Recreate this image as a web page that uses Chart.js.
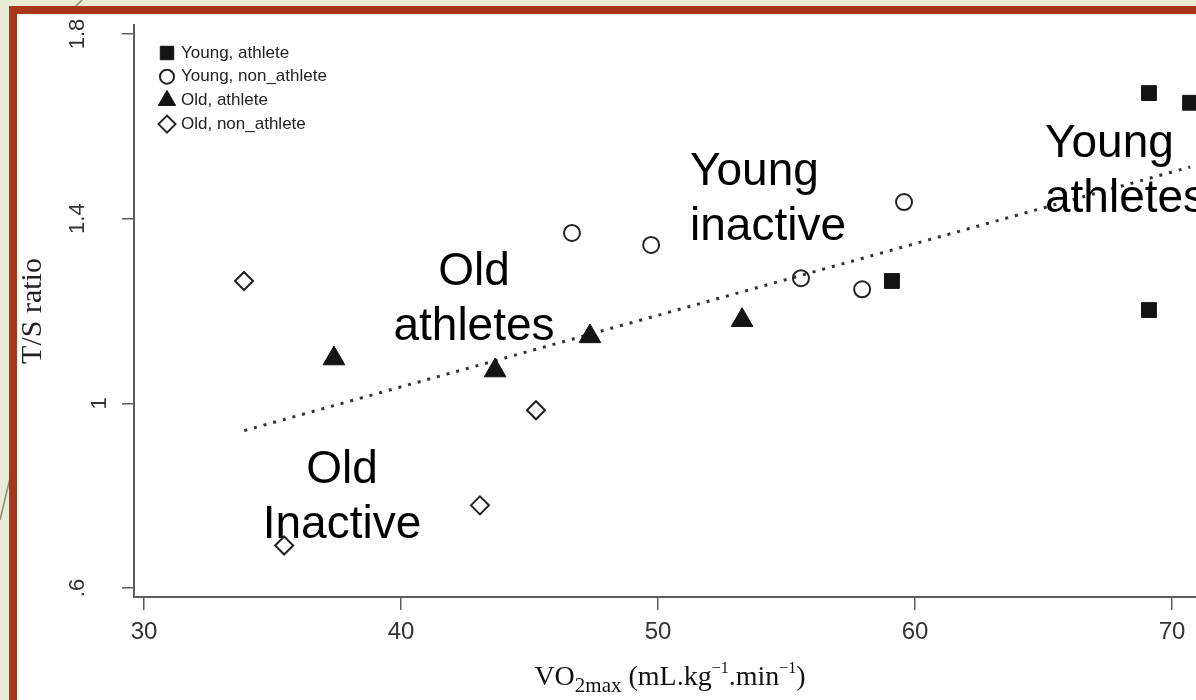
<!DOCTYPE html>
<html>
<head>
<meta charset="utf-8">
<title>T/S ratio vs VO2max</title>
<script src="https://cdn.jsdelivr.net/npm/chart.js@4.4.1/dist/chart.umd.min.js"></script>
<style>
  html, body { margin: 0; padding: 0; background: #e8ecd6; }
  #wrap { width: 1196px; height: 700px; }
</style>
</head>
<body>
<div id="wrap"><canvas id="chartTS" width="1196" height="700"></canvas></div>
<script>
// groups
var groupNames = ['Young, athlete', 'Young, non_athlete', 'Old, athlete', 'Old, non_athlete'];

// VO2max (x) and T/S ratio (y)
var youngAthleteX = [69.1, 70.7, 59.1, 69.1];
var youngAthleteY = [1.672, 1.651, 1.265, 1.202];
var youngInactiveX = [46.65, 49.73, 59.57, 55.56, 57.94];
var youngInactiveY = [1.369, 1.343, 1.436, 1.271, 1.247];
var oldAthleteX = [37.39, 43.66, 47.35, 53.27];
var oldAthleteY = [1.097, 1.071, 1.145, 1.180];
var oldInactiveX = [33.89, 45.25, 43.07, 35.45];
var oldInactiveY = [1.265, 0.985, 0.779, 0.692];

// dotted fit line (its two ends)
var fitX = [33.9, 70.7];
var fitY = [0.941, 1.512];

var xTicks = [30, 40, 50, 60, 70];
var yTicks = [0.6, 1, 1.4, 1.8];
var yTickLabels = ['.6', ['', '1'], '1.4', '1.8'];

var noteTexts = [['Young', 'inactive'], ['Old', 'athletes'], ['Old', 'Inactive'], ['Young', 'athletes']];
var yTitle = 'T/S ratio';
// x title pieces: 0 = normal, 1 = subscript, 2 = superscript
var xTitleParts = [['VO', 0], ['2max', 1], [' (mL.kg', 0], ['\u22121', 2], ['.min', 0], ['\u22121', 2], [')', 0]];

function pairs(xs, ys) {
  return xs.map(function (x, i) { return { x: x, y: ys[i] }; });
}

var sans = '"Liberation Sans", Arial, sans-serif';
var serif = '"Liberation Serif", "Times New Roman", serif';
var axisGrey = '#5c5c5c';
var ink = '#141414';

// slide frame behind the chart
var slideFrame = {
  id: 'slideFrame',
  beforeDraw: function (chart) {
    var c = chart.ctx, w = chart.width, h = chart.height;
    c.save();
    c.fillStyle = '#e8ecd6';
    c.fillRect(0, 0, w, h);
    c.strokeStyle = '#8d8b70';
    c.lineWidth = 1.5;
    c.beginPath();
    c.moveTo(82, 0); c.lineTo(75, 7);
    c.moveTo(10, 478); c.lineTo(0, 520);
    c.stroke();
    c.fillStyle = '#a9371b';
    c.fillRect(9, 6, w - 9, 8);
    c.fillRect(9, 6, 8, h - 6);
    c.fillStyle = '#ffffff';
    c.fillRect(17, 14, w - 17, h - 14);
    c.restore();
  }
};

// big text notes on the plot
var plotNotes = {
  id: 'plotNotes',
  afterDraw: function (chart) {
    var c = chart.ctx;
    var spots = [
      { x: 690, y: 185, align: 'left' },
      { x: 474, y: 285, align: 'center' },
      { x: 342, y: 483, align: 'center' },
      { x: 1045, y: 157, align: 'left' }
    ];
    c.save();
    c.font = '46px ' + sans;
    c.fillStyle = '#000';
    c.textBaseline = 'alphabetic';
    noteTexts.forEach(function (lines, i) {
      c.textAlign = spots[i].align;
      lines.forEach(function (t, j) {
        c.fillText(t, spots[i].x, spots[i].y + j * 55);
      });
    });
    c.restore();
  }
};

// legend in the top left corner of the plot
var legendRadius = [9.5, 7, 10, 8.5];
var cornerLegend = {
  id: 'cornerLegend',
  afterDraw: function (chart) {
    var c = chart.ctx;
    c.save();
    c.font = '17px ' + sans;
    c.textBaseline = 'middle';
    c.textAlign = 'left';
    groupNames.forEach(function (name, i) {
      var ds = chart.data.datasets[i];
      var y = 53 + i * 23.7;
      c.fillStyle = ds.backgroundColor;
      c.strokeStyle = ds.borderColor;
      c.lineWidth = ds.borderWidth;
      Chart.helpers.drawPoint(c, { pointStyle: ds.pointStyle, radius: legendRadius[i], rotation: 0, borderWidth: ds.borderWidth }, 167, y);
      c.fillStyle = '#222';
      c.fillText(name, 181, y);
    });
    c.restore();
  }
};

// x axis title with sub/superscripts
var xTitle = {
  id: 'xTitle',
  afterDraw: function (chart) {
    var c = chart.ctx;
    var fonts = ['28px ' + serif, '21px ' + serif, '16px ' + serif];
    var shift = [0, 7, -12];
    c.save();
    c.fillStyle = '#111';
    c.textBaseline = 'alphabetic';
    c.textAlign = 'left';
    var total = 0;
    xTitleParts.forEach(function (p) { c.font = fonts[p[1]]; total += c.measureText(p[0]).width; });
    var x = 670 - total / 2;
    xTitleParts.forEach(function (p) {
      c.font = fonts[p[1]];
      c.fillText(p[0], x, 685 + shift[p[1]]);
      x += c.measureText(p[0]).width;
    });
    c.restore();
  }
};

var ctx = document.getElementById('chartTS').getContext('2d');

new Chart(ctx, {
  type: 'scatter',
  data: {
    datasets: [{
      label: groupNames[0],
      data: pairs(youngAthleteX, youngAthleteY),
      pointStyle: 'rect',
      pointRadius: 10.5,
      backgroundColor: ink,
      borderColor: ink,
      borderWidth: 1
    }, {
      label: groupNames[1],
      data: pairs(youngInactiveX, youngInactiveY),
      pointStyle: 'circle',
      pointRadius: 8,
      backgroundColor: 'rgba(255,255,255,0)',
      borderColor: '#222',
      borderWidth: 2
    }, {
      label: groupNames[2],
      data: pairs(oldAthleteX, oldAthleteY),
      pointStyle: 'triangle',
      pointRadius: 12.5,
      backgroundColor: ink,
      borderColor: ink,
      borderWidth: 1
    }, {
      label: groupNames[3],
      data: pairs(oldInactiveX, oldInactiveY),
      pointStyle: 'rectRot',
      pointRadius: 9,
      backgroundColor: 'rgba(255,255,255,0)',
      borderColor: '#222',
      borderWidth: 2
    }, {
      label: 'fit',
      data: pairs(fitX, fitY),
      showLine: true,
      pointRadius: 0,
      borderColor: '#333',
      borderWidth: 3,
      borderDash: [3, 7],
      fill: false
    }]
  },
  options: {
    responsive: false,
    animation: false,
    events: [],
    layout: { autoPadding: false, padding: { top: 25, left: 0, right: 0, bottom: 0 } },
    plugins: {
      legend: { display: false },
      tooltip: { enabled: false }
    },
    scales: {
      x: {
        type: 'linear',
        min: 29.61,
        max: 70.93,
        afterBuildTicks: function (s) { s.ticks = xTicks.map(function (v) { return { value: v }; }); },
        afterFit: function (s) { s.height = 103; s.paddingLeft = 0; s.paddingRight = 0; },
        ticks: {
          autoSkip: false,
          maxRotation: 0,
          padding: 8,
          color: '#333',
          font: { family: sans, size: 24 }
        },
        grid: { drawOnChartArea: false, drawTicks: true, tickLength: 13, color: axisGrey, lineWidth: 1.5 },
        border: { display: true, color: axisGrey, width: 2 }
      },
      y: {
        type: 'linear',
        min: 0.5805,
        max: 1.8195,
        afterBuildTicks: function (s) { s.ticks = yTicks.map(function (v) { return { value: v }; }); },
        afterFit: function (s) { s.width = 134; s.paddingTop = 0; s.paddingBottom = 0; },
        ticks: {
          autoSkip: false,
          minRotation: 90,
          maxRotation: 90,
          crossAlign: 'center',
          padding: 29,
          color: '#333',
          font: { family: sans, size: 22, lineHeight: 2 },
          callback: function (v, i) { return yTickLabels[i]; }
        },
        grid: { drawOnChartArea: false, drawTicks: true, tickLength: 12, color: axisGrey, lineWidth: 1.5 },
        border: { display: true, color: axisGrey, width: 2 },
        title: {
          display: true,
          text: yTitle,
          color: '#222',
          font: { family: serif, size: 30 },
          padding: { top: 15, bottom: 0 }
        }
      }
    }
  },
  plugins: [slideFrame, plotNotes, cornerLegend, xTitle]
});
</script>
</body>
</html>
